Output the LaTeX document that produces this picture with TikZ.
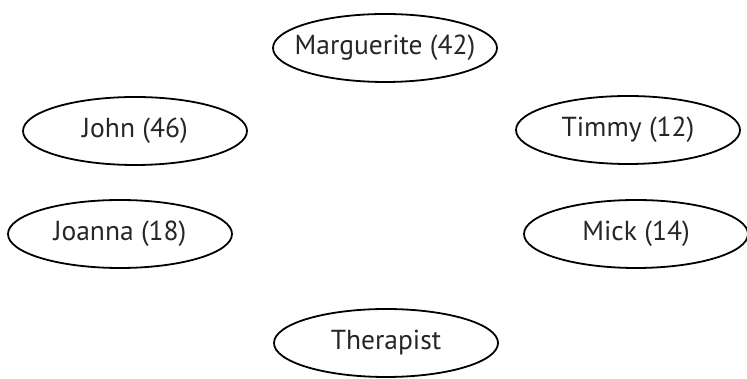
\documentclass[tikz,border=0pt]{standalone}
\usepackage{fontspec}
\setmainfont{PT Sans}
\usetikzlibrary{shapes.geometric}
\tikzset{
  person/.style={draw, ellipse, line width=1.8pt, minimum width=224pt, minimum height=68pt,
    inner xsep=-40pt, inner ysep=0pt, font=\fontsize{27.5}{30}\selectfont, text=black!85}
}
\begin{document}
\begin{tikzpicture}[x=1pt,y=1pt]
  \useasboundingbox (0,0) rectangle (747,379);
  \node[person] (marguerite) at (385,331) {Marguerite (42)};
  \node[person] (john) at (135,248) {John (46)};
  \node[person] (timmy) at (628,249) {Timmy (12)};
  \node[person] (joanna) at (120,145) {Joanna (18)};
  \node[person] (mick) at (636,145) {Mick (14)};
  \node[person] (therapist) at (386,36) {Therapist};
\end{tikzpicture}
\end{document}
